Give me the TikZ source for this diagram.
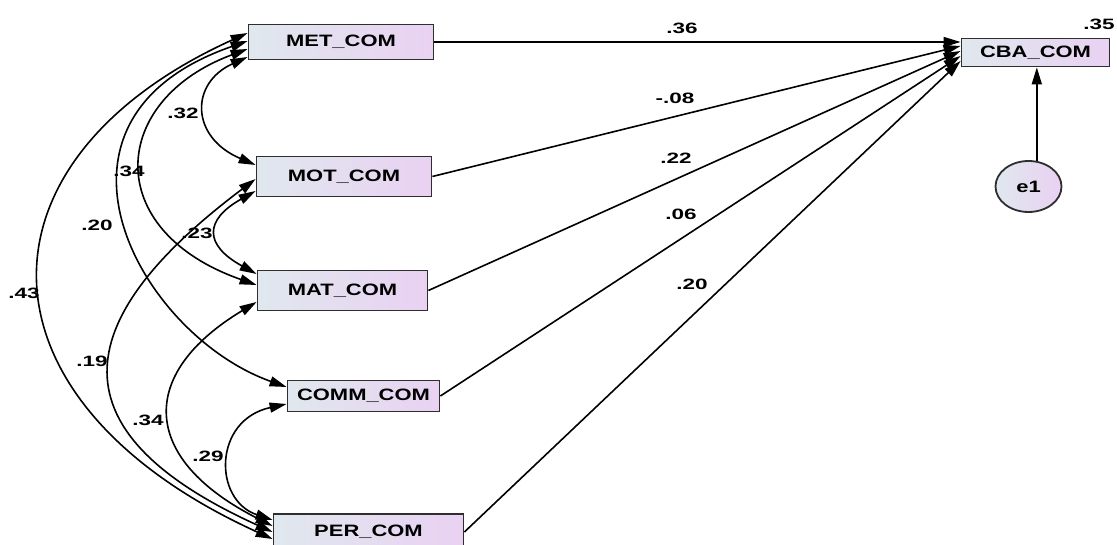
\documentclass[tikz,border=0pt]{standalone}
\usepackage{fontspec}
\newfontfamily\boxfont{Liberation Sans}[FakeStretch=1.33]
\newfontfamily\numfont{Liberation Sans}[FakeStretch=1.5]
\usetikzlibrary{arrows.meta,shapes.geometric}
\definecolor{boxL}{HTML}{E0E8EE}
\definecolor{boxR}{HTML}{E9D1F2}
\definecolor{edgec}{HTML}{2E2E2E}
\begin{document}
\begin{tikzpicture}[x=1pt,y=-1pt,
  var/.style={draw=edgec, line width=1.8pt, left color=boxL, right color=boxR,
    inner sep=0pt, font=\boxfont\bfseries\fontsize{16.5}{16.5}\selectfont, text=black},
  lat/.style={var, ellipse},
  lbl/.style={font=\numfont\bfseries\fontsize{15}{15}\selectfont, inner sep=0pt, text=black},
  arr/.style={line width=1.6pt, -{Triangle[length=17pt,width=10pt]}},
  cov/.style={line width=1.6pt, {Triangle[length=17pt,width=10pt]}-{Triangle[length=17pt,width=10pt]}}]
\useasboundingbox (0,0) rectangle (1117,545);

% observed variables
\node[var, minimum width=185pt, minimum height=35pt] (met) at (341,42) {MET\_COM};
\node[var, minimum width=175pt, minimum height=40pt] (mot) at (344,176.5) {MOT\_COM};
\node[var, minimum width=170pt, minimum height=40pt] (mat) at (342.5,290.5) {MAT\_COM};
\node[var, minimum width=152pt, minimum height=31pt] (comm) at (363.5,396) {COMM\_COM};
\node[var, minimum width=190pt, minimum height=36pt] (per) at (368.5,532) {PER\_COM};
\node[var, minimum width=148pt, minimum height=28pt] (cba) at (1035.5,52.5) {CBA\_COM};
\node[lat, minimum width=66pt, minimum height=51pt] (e1) at (1028.5,186.5) {e1};

% regression paths
\draw[arr] (met.east) -- ([yshift=10.5pt]cba.west);
\draw[arr] (mot.east) -- ([yshift=6.5pt]cba.west);
\draw[arr] (mat.east) -- ([yshift=1.5pt]cba.west);
\draw[arr] (comm.east) -- ([yshift=-3.5pt]cba.west);
\draw[arr] (per.east) -- ([yshift=-8.5pt]cba.west);
\draw[arr] (e1.72) -- (e1.72 |- cba.south);

% covariances
\draw[cov] ([yshift=9pt]met.west) .. controls (-33,160) and (-33,400) .. ([yshift=-7pt]per.west);
\draw[cov] ([yshift=1pt]met.west) .. controls (20,120) and (140,335) .. ([yshift=9pt]comm.west);
\draw[cov] ([yshift=-7pt]met.west) .. controls (110,100) and (100,230) .. ([yshift=5.5pt]mat.west);
\draw[cov] ([yshift=-15pt]met.west) .. controls (190,83) and (190,137) .. ([yshift=11.5pt]mot.west);
\draw[cov] ([yshift=-14.5pt]mot.west) .. controls (204,220) and (204,245) .. ([yshift=16.5pt]mat.west);
\draw[cov] ([yshift=-2.5pt]mot.west) .. controls (76,314) and (43,428) .. (per.west);
\draw[cov] ([yshift=-11.5pt]mat.west) .. controls (137,374) and (140,459) .. ([yshift=6pt]per.west);
\draw[cov] ([yshift=-8pt]comm.west) .. controls (213,420) and (213,500) .. ([yshift=12pt]per.west);

% labels
\node[lbl] (l36) at (682,28) {.36};
\node[lbl] (l08) at (675,98) {-.08};
\node[lbl] (l22) at (676,158) {.22};
\node[lbl] (l06) at (681,214) {.06};
\node[lbl] (l20p) at (692,284) {.20};
\node[lbl] (l35) at (1099,24) {.35};
\node[lbl] (c32) at (183,113) {.32};
\node[lbl] (c34a) at (129,171) {.34};
\node[lbl] (c20) at (97,225) {.20};
\node[lbl] (c23) at (197,233) {.23};
\node[lbl] (c43) at (24,293) {.43};
\node[lbl] (c19) at (92,361) {.19};
\node[lbl] (c34b) at (148,420) {.34};
\node[lbl] (c29) at (208,456) {.29};
\end{tikzpicture}
\end{document}
